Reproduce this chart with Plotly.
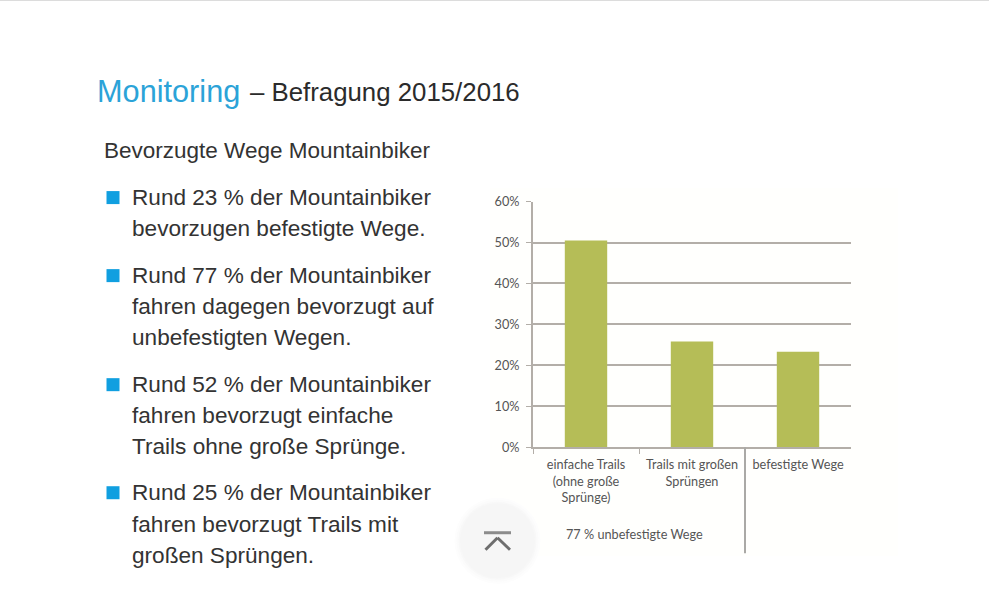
import plotly.graph_objects as go

W, H = 989, 614
categories = ["einfache Trails<br>(ohne große<br>Sprünge)", "Trails mit großen<br>Sprüngen", "befestigte Wege"]
values = [50.5, 25.8, 23.3]
y_ticks = [0, 10, 20, 30, 40, 50, 60]
y_labels = ["0%", "10%", "20%", "30%", "40%", "50%", "60%"]
bullet_rows = [197, 275, 384, 492]
text_lines = [
    ("Rund 23 % der Mountainbiker", 197), ("bevorzugen befestigte Wege.", 228),
    ("Rund 77 % der Mountainbiker", 275), ("fahren dagegen bevorzugt auf", 306), ("unbefestigten Wegen.", 337),
    ("Rund 52 % der Mountainbiker", 384), ("fahren bevorzugt einfache", 415), ("Trails ohne große Sprünge.", 446),
    ("Rund 25 % der Mountainbiker", 492), ("fahren bevorzugt Trails mit", 524), ("großen Sprüngen.", 555),
]

# The rendered page maps figure y to screen y as 10 + 0.9735*y, so targets are converted back here.
def px(x): return x / W
def py(y): return 1 - ((y - 10) / 0.9735) / H

BODY = "Liberation Sans"
GRID = "#b3aea8"

fig = go.Figure(go.Bar(x=categories, y=values, width=0.4, marker=dict(color="#b5bd57", line=dict(width=0)),
                       hoverinfo="skip"))

shapes = []
def rect(x0, y0, x1, y1, fill, layer="above"):
    shapes.append(dict(type="rect", xref="paper", yref="paper", x0=px(x0), x1=px(x1), y0=py(y1), y1=py(y0),
                       fillcolor=fill, line=dict(width=0), layer=layer))
def circle(cx, cy, r, fill):
    shapes.append(dict(type="circle", xref="paper", yref="paper", x0=px(cx - r), x1=px(cx + r), y0=py(cy + r), y1=py(cy - r),
                       fillcolor=fill, line=dict(width=0), layer="above"))
def seg(x0, y0, x1, y1, color, w):
    shapes.append(dict(type="line", xref="paper", yref="paper", x0=px(x0), x1=px(x1), y0=py(y0), y1=py(y1),
                       line=dict(color=color, width=w), layer="above"))

rect(490, 188, 898, 556, "#fffffd", layer="below")
for row in bullet_rows:
    rect(106.5, row - 6, 119.5, row + 7, "#109fe0")

# separator between unpaved / paved groups
shapes.append(dict(type="line", xref="x", yref="y domain", x0=1.5, x1=1.5, y0=0, y1=-0.432,
                   line=dict(color="#aaa9a6", width=2), layer="above"))

# scroll-to-top button
for r, c in [(43, "#fdfdfd"), (41, "#fbfbfb"), (39, "#f8f8f8"), (37.5, "#f6f6f6")]:
    circle(497.5, 540.5, r, c)
seg(484, 532.5, 511, 532.5, "#8c8c8c", 3)
seg(485.5, 549.5, 497.5, 537.5, "#6e6e6e", 3)
seg(497.5, 537.5, 510, 549.5, "#6e6e6e", 3)

ann = []
def text(x, y, s, size, color, font=BODY, anchor="left"):
    ann.append(dict(xref="paper", yref="paper", x=px(x), y=py(y), text=s, showarrow=False, xanchor=anchor,
                    yanchor="middle", align=anchor, font=dict(family=font, size=size, color=color)))

text(95, 91, "Monitoring", 30.7, "#2ba3d8")
text(248, 92, "– Befragung 2015/2016", 25.8, "#2b2b2b")
text(102, 150, "Bevorzugte Wege Mountainbiker", 22.5, "#333333")
for s, y in text_lines:
    text(130, y, s, 22.6, "#333333")
text(634, 534, "77 % unbefestigte Wege", 12.7, "#555555", font="Lato", anchor="center")

fig.update_layout(
    width=W, height=H, margin=dict(l=0, r=0, t=0, b=0), paper_bgcolor="white", plot_bgcolor="rgba(0,0,0,0)",
    showlegend=False, shapes=shapes, annotations=ann,
    xaxis=dict(domain=[px(533), px(851)], type="category", tickson="boundaries", ticks="outside", ticklen=5,
               tickcolor=GRID, linecolor=GRID, linewidth=2, showgrid=False, tickangle=0, ticklabelstandoff=5,
               tickfont=dict(family="Lato", size=12.7, color="#555555")),
    yaxis=dict(domain=[py(447), py(201.5)], range=[0, 60], tickvals=y_ticks, ticktext=y_labels, ticks="outside", ticklen=5,
               tickcolor=GRID, linecolor=GRID, linewidth=2, gridcolor=GRID, gridwidth=2, zeroline=False, ticklabelstandoff=4,
               tickfont=dict(family="Lato", size=12.7, color="#555555")),
)
fig.write_html("out.html", config={"displayModeBar": False}, default_width="989px", default_height="614px",
               post_script="document.body.style.margin='0';document.documentElement.style.overflow='hidden';document.documentElement.style.borderTop='1px solid #dcdcdc';")
